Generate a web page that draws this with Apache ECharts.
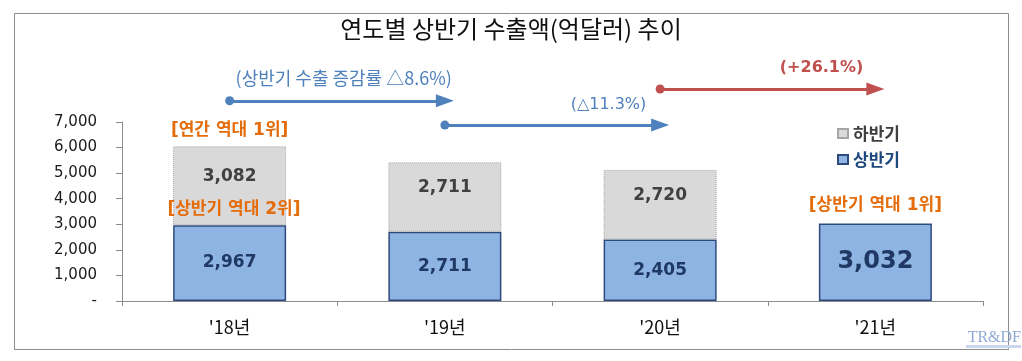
<!DOCTYPE html>
<html><head><meta charset="utf-8">
<script src="https://cdn.jsdelivr.net/npm/echarts/dist/echarts.min.js"></script>
<style>html,body{margin:0;padding:0;background:#fff}#c{width:1022px;height:361px}</style>
</head><body><div id="c"></div>
<script>
// ---- data ----
const categories = ["'18년", "'19년", "'20년", "'21년"];
const firstHalf = [2967, 2711, 2405, 3032];      // 상반기
const secondHalf = [3082, 2711, 2720, null];     // 하반기
const yMin = 0, yMax = 7000, yStep = 1000;
const growthTexts = ['(상반기 수출 증감률 △8.6%)', '(△11.3%)', '(+26.1%)'];
const rankTexts = ['[연간 역대 1위]', '[상반기 역대 2위]', '[상반기 역대 1위]'];
const titleText = '연도별 상반기 수출액(억달러) 추이';

// ---- layout (annotation placement in data units of an overlay axis) ----
const arrowLayout = [
  { from: 0, to: 1, y: 7830, lx: 0.53, ly: 8720, color: '#4F81BD', font: 'Noto Sans CJK KR', size: 18, weight: 'normal' },
  { from: 1, to: 2, y: 6880, lx: 1.76, ly: 7665, color: '#4F81BD', font: 'DejaVu Sans', size: 16, weight: 'normal' },
  { from: 2, to: 3, y: 8290, lx: 2.75, ly: 9110, color: '#C0504D', font: 'DejaVu Sans', size: 16, weight: 'bold' }
];
const rankLayout = [ { x: 0, y: 6660 }, { x: 0.02, y: 3560 }, { x: 3, y: 3750 } ];
const highlightIndex = 3;

const fmt = v => (v == null || v === '-' ? '' : Number(v).toLocaleString('en-US'));
const gridBottom = 60, gridTop = 122, H = 361;
const mainH = H - gridTop - gridBottom;
const overlayMax = 10000;
const overlayTop = H - gridBottom - mainH * overlayMax / yMax;

const chart = echarts.init(document.getElementById('c'));
chart.setOption({
  animation: false,
  backgroundColor: '#fff',
  title: {
    text: titleText, left: 'center', top: 17, padding: 0,
    textStyle: { fontSize: 24, fontWeight: 'normal', color: '#111', fontFamily: 'Noto Sans CJK KR' }
  },
  legend: {
    orient: 'vertical', left: 832, top: 120, itemWidth: 10, itemHeight: 9, itemGap: 9,
    icon: 'rect',
    textStyle: { fontSize: 17, fontWeight: 'bold', fontFamily: 'Noto Sans CJK KR' },
    data: [
      { name: '하반기', textStyle: { color: '#404040' } },
      { name: '상반기', textStyle: { color: '#1F497D' } }
    ]
  },
  grid: [
    { left: 122, right: 39, top: gridTop, bottom: gridBottom },
    { left: 122, right: 39, top: overlayTop, bottom: gridBottom }
  ],
  xAxis: [
    {
      type: 'category', gridIndex: 0, data: categories, boundaryGap: true,
      axisLine: { show: true, lineStyle: { color: '#8C8C8C', width: 1 } },
      axisTick: { show: true, length: 5, alignWithLabel: false, lineStyle: { color: '#8C8C8C' } },
      axisLabel: { margin: 17, fontSize: 18, color: '#111', fontFamily: 'Noto Sans CJK KR' },
      splitLine: { show: false }
    },
    { type: 'value', gridIndex: 1, min: -0.5, max: 3.5, show: false }
  ],
  yAxis: [
    {
      type: 'value', gridIndex: 0, min: yMin, max: yMax, interval: yStep,
      axisLine: { show: true, lineStyle: { color: '#8C8C8C', width: 1 } },
      axisTick: { show: true, length: 6, lineStyle: { color: '#8C8C8C' } },
      splitLine: { show: false },
      axisLabel: {
        margin: 25, fontSize: 15, color: '#1a1a1a', fontFamily: 'DejaVu Sans',
        formatter: v => (v === 0 ? '-' : fmt(v))
      }
    },
    { type: 'value', gridIndex: 1, min: 0, max: overlayMax, show: false }
  ],
  graphic: [
    { type: 'rect', silent: true, shape: { x: 14.5, y: 13.5, width: 994, height: 336 },
      style: { fill: 'none', stroke: '#8C8C8C', lineWidth: 1 } },
    { type: 'text', silent: true, x: 1021, y: 330,
      style: { text: 'TR&DF', font: '16px "Liberation Serif"', fill: '#8FAAD6', textAlign: 'right' } },
    { type: 'rect', silent: true, shape: { x: 966, y: 345, width: 55, height: 3 },
      style: { fill: '#C9D6EC' } }
  ],
  series: [
    {
      name: '상반기', type: 'bar', stack: 'total', xAxisIndex: 0, yAxisIndex: 0, barWidth: '52.5%',
      itemStyle: { color: '#8EB4E3', borderColor: '#2E4A7D', borderWidth: 1.5 },
      label: {
        show: true, position: 'inside', color: '#1F3864', fontWeight: 'bold', fontSize: 17,
        fontFamily: 'DejaVu Sans', formatter: p => fmt(p.value)
      },
      data: firstHalf.map((v, i) => i === highlightIndex ? { value: v, label: { fontSize: 24 } } : v)
    },
    {
      name: '하반기', type: 'bar', stack: 'total', xAxisIndex: 0, yAxisIndex: 0, barWidth: '52.5%',
      itemStyle: { color: '#D9D9D9', borderColor: '#A6A6A6', borderWidth: 1, borderType: 'dotted' },
      label: {
        show: true, position: 'inside', offset: [0, -9], color: '#404040', fontWeight: 'bold', fontSize: 17,
        fontFamily: 'DejaVu Sans', formatter: p => fmt(p.value)
      },
      data: secondHalf
    },
    {
      name: 'arrows', type: 'lines', coordinateSystem: 'cartesian2d', xAxisIndex: 1, yAxisIndex: 1,
      silent: true, symbol: ['circle', 'triangle'], symbolSize: [9, [13, 18]],
      data: arrowLayout.map(a => ({
        coords: [[a.from, a.y], [a.to, a.y]],
        lineStyle: { color: a.color, width: 3, opacity: 1 }
      }))
    },
    {
      name: 'notes', type: 'scatter', xAxisIndex: 1, yAxisIndex: 1, silent: true,
      symbolSize: 1, itemStyle: { color: 'rgba(0,0,0,0)', opacity: 1 },
      label: { show: true, position: 'inside', opacity: 1, formatter: p => p.data.text },
      data: arrowLayout.map((a, i) => ({
        value: [a.lx, a.ly], text: growthTexts[i],
        label: { color: a.color, fontFamily: a.font, fontSize: a.size, fontWeight: a.weight }
      })).concat(rankLayout.map((r, i) => ({
        value: [r.x, r.y], text: rankTexts[i],
        label: { color: '#E46C0A', fontFamily: 'DejaVu Sans, Noto Sans CJK KR', fontSize: 17, fontWeight: 'bold' }
      })))
    }
  ]
});
</script></body></html>
